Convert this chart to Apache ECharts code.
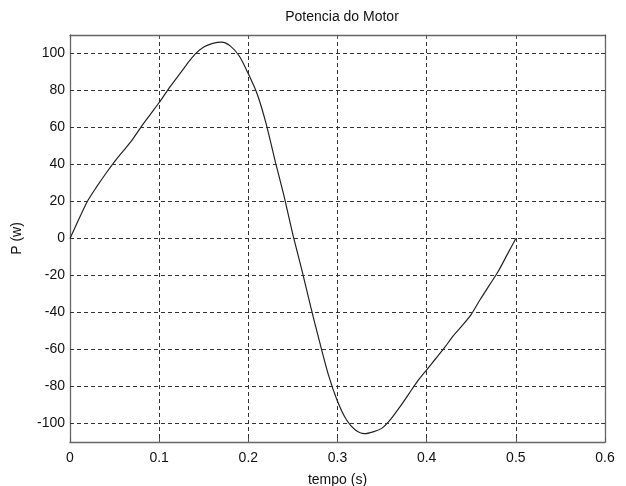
<!DOCTYPE html>
<html>
<head>
<meta charset="utf-8">
<script src="https://cdn.jsdelivr.net/npm/echarts@6/dist/echarts.min.js"></script>
<style>html,body{margin:0;padding:0;background:#fff;}#c{width:626px;height:486px;}</style>
</head>
<body>
<div id="c"></div>
<script>
const tempo = [0,0.01,0.02,0.03,0.04,0.05,0.06,0.07,0.08,0.09,0.10,0.11,0.12,0.13,0.14,0.15,0.16,0.17,0.18,0.19,0.20,0.21,0.22,0.23,0.24,0.25,0.26,0.27,0.28,0.29,0.30,0.31,0.32,0.33,0.34,0.35,0.36,0.37,0.38,0.39,0.40,0.41,0.42,0.43,0.44,0.45,0.46,0.47,0.48,0.49,0.50];
const potencia = [0,10.5,20.5,28,35,41.5,47.5,53.5,60.5,67,73.5,80.5,87,93.5,99.5,103.5,105.5,106.2,104,98.5,89,78,62,42,23,2,-17,-37,-56,-74,-88,-98,-103.5,-105.5,-104.5,-102.5,-97.5,-91,-84,-77,-71,-65,-59,-52.5,-47,-41,-33,-25.5,-18,-9,0];
const yTicks = [-100,-80,-60,-40,-20,0,20,40,60,80,100];
const xTicks = [0,0.1,0.2,0.3,0.4,0.5,0.6];

const chart = echarts.init(document.getElementById('c'), null, {renderer:'canvas'});
const font = 'Liberation Sans, Arial, sans-serif';
const gridStyle = {color:'#333', width:1, type:[4,3]};
chart.setOption({
  animation:false,
  backgroundColor:'#fff',
  title:{text:'Potencia do Motor', left:337, top:5, textAlign:'center',
    textStyle:{fontFamily:font, fontSize:14, fontWeight:'normal', color:'#111'}},
  grid:{left:70, right:21, top:35, bottom:44, containLabel:false, outerBoundsMode:'none'},
  xAxis:[{
    type:'value', min:0, max:0.6, interval:0.1,
    name:'tempo (s)', nameLocation:'middle', nameGap:31,
    nameTextStyle:{fontFamily:font, fontSize:14, color:'#111'},
    axisLine:{show:true, onZero:false, lineStyle:{color:'#666', width:1.3}},
    axisTick:{show:true, inside:true, length:4, lineStyle:{color:'#555'}},
    axisLabel:{fontFamily:font, fontSize:14, color:'#111', margin:9, formatter:v=>String(+v.toFixed(1))},
    splitLine:{show:true, lineStyle:gridStyle}
  },{
    type:'value', position:'top', min:0, max:0.6, interval:0.1,
    axisLine:{show:true, onZero:false, lineStyle:{color:'#666', width:1.3}},
    axisTick:{show:true, inside:true, length:4, lineStyle:{color:'#555'}},
    axisLabel:{show:false}, splitLine:{show:false}
  }],
  yAxis:[{
    type:'value', min:-110, max:110,
    name:'P (w)', nameLocation:'middle', nameGap:46,
    nameTextStyle:{fontFamily:font, fontSize:14, color:'#111'},
    axisLine:{show:true, onZero:false, lineStyle:{color:'#666', width:1.3}},
    axisTick:{show:true, inside:true, length:4, customValues:yTicks, lineStyle:{color:'#555'}},
    axisLabel:{fontFamily:font, fontSize:14, color:'#111', margin:5, customValues:yTicks},
    splitLine:{show:false}
  },{
    type:'value', position:'right', min:-110, max:110,
    axisLine:{show:true, onZero:false, lineStyle:{color:'#666', width:1.3}},
    axisTick:{show:true, inside:true, length:4, customValues:yTicks, lineStyle:{color:'#555'}},
    axisLabel:{show:false}, splitLine:{show:false}
  }],
  series:[{
    type:'line', xAxisIndex:0, yAxisIndex:0,
    data: tempo.map((t,i)=>[t, potencia[i]]),
    showSymbol:false, symbol:'none', smooth:0.25,
    lineStyle:{color:'#222', width:1.2},
    markLine:{silent:true, symbol:'none', animation:false, label:{show:false},
      lineStyle:gridStyle,
      data: yTicks.map(v=>({yAxis:v}))}
  }]
});
</script>
</body>
</html>
